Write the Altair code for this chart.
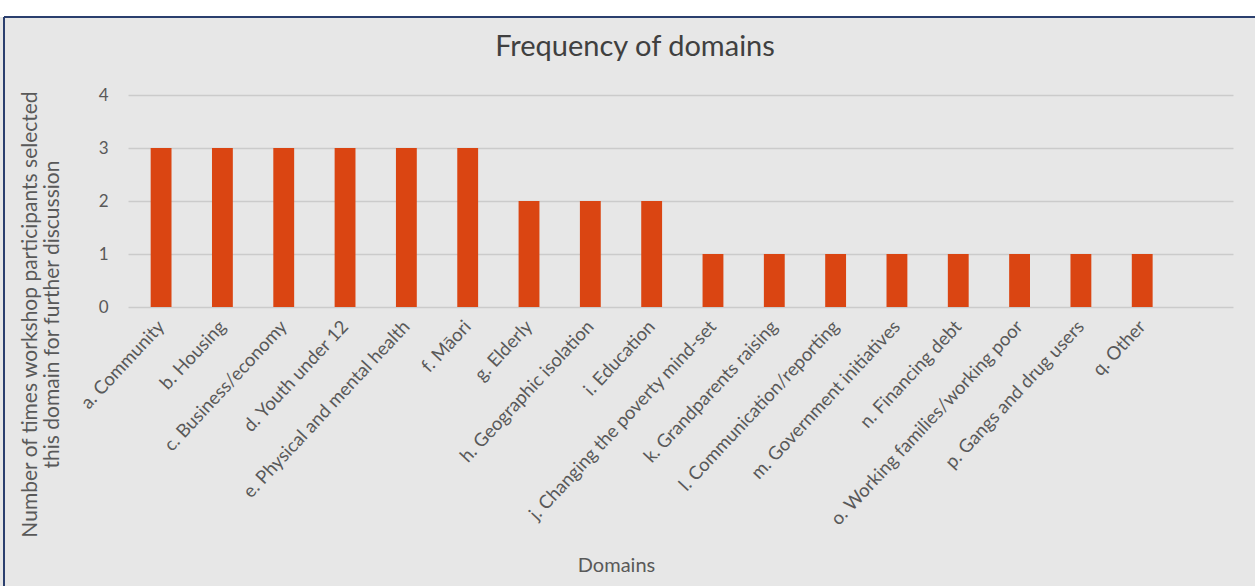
import altair as alt
import pandas as pd

categories = [
    "a. Community", "b. Housing", "c. Business/economy", "d. Youth under 12",
    "e. Physical and mental health", "f. Māori", "g. Elderly",
    "h. Geographic isolation", "i. Education", "j. Changing the poverty mind-set",
    "k. Grandparents raising", "l. Communication/reporting",
    "m. Government initiatives", "n. Financing debt",
    "o. Working families/working poor", "p. Gangs and drug users", "q. Other",
]
values = [3, 3, 3, 3, 3, 3, 2, 2, 2, 1, 1, 1, 1, 1, 1, 1, 1]
y_ticks = [0, 1, 2, 3, 4]
chart_title = "Frequency of domains"

df = pd.DataFrame({"domain": categories, "count": values})

FONT = "Lato"
TXT = "#595959"

bars = alt.Chart(df).mark_bar(color="#DA4512").encode(
    x=alt.X(
        "domain:N",
        sort=categories,
        scale=alt.Scale(paddingInner=0.66, paddingOuter=0.84, align=0.22),
        axis=alt.Axis(
            title="Domains",
            labelAngle=313,
            labelAlign="right",
            labelBaseline="middle",
            labelPadding=16,
            labelFontSize=18.5,
            labelColor=TXT,
            labelFont=FONT,
            labelLimit=400,
            ticks=False,
            domain=False,
            grid=False,
            titleFont=FONT,
            titleFontSize=20,
            titleFontWeight="normal",
            titleColor=TXT,
            titleX=488,
            titleY=258,
            titleBaseline="middle",
        ),
    ),
    y=alt.Y(
        "count:Q",
        scale=alt.Scale(domain=[0, 4], nice=False),
        axis=alt.Axis(
            title=["Number of times workshop participants selected",
                   "this domain for further discussion"],
            values=y_ticks,
            format="d",
            ticks=False,
            domain=False,
            grid=True,
            gridColor="#cbcbcb",
            gridWidth=1.5,
            labelPadding=20,
            labelFontSize=17,
            labelColor=TXT,
            labelFont=FONT,
            titleFont=FONT,
            titleFontSize=21,
            titleFontWeight="normal",
            titleColor=TXT,
            titleX=-98,
            titleY=219,
            titleBaseline="middle",
            titleLineHeight=22,
        ),
    ),
)

deco = alt.Data(values=[{"t": chart_title}])
top_strip = alt.Chart(deco).mark_rect(color="white").encode(
    x=alt.value(-140), x2=alt.value(1200), y=alt.value(-100), y2=alt.value(-78)
)
top_line = alt.Chart(deco).mark_rule(color="#2b3f6e", strokeWidth=2).encode(
    x=alt.value(-124), x2=alt.value(1200), y=alt.value(-78)
)
left_line = alt.Chart(deco).mark_rule(color="#2b3f6e", strokeWidth=2).encode(
    x=alt.value(-124), y=alt.value(-78), y2=alt.value(520)
)
title_text = alt.Chart(deco).mark_text(
    font=FONT, fontSize=29, color="#404040", align="center", baseline="alphabetic"
).encode(x=alt.value(507), y=alt.value(-39), text="t:N")

chart = alt.layer(top_strip, top_line, left_line, title_text, bars).properties(
    width=1105,
    height=212,
    autosize=alt.AutoSizeParams(type="none"),
    padding={"left": 128, "top": 95, "right": 22, "bottom": 279},
    background="#e7e7e7",
).configure_view(stroke=None)

chart.save("out.html", embed_options={"renderer": "svg", "actions": False})
